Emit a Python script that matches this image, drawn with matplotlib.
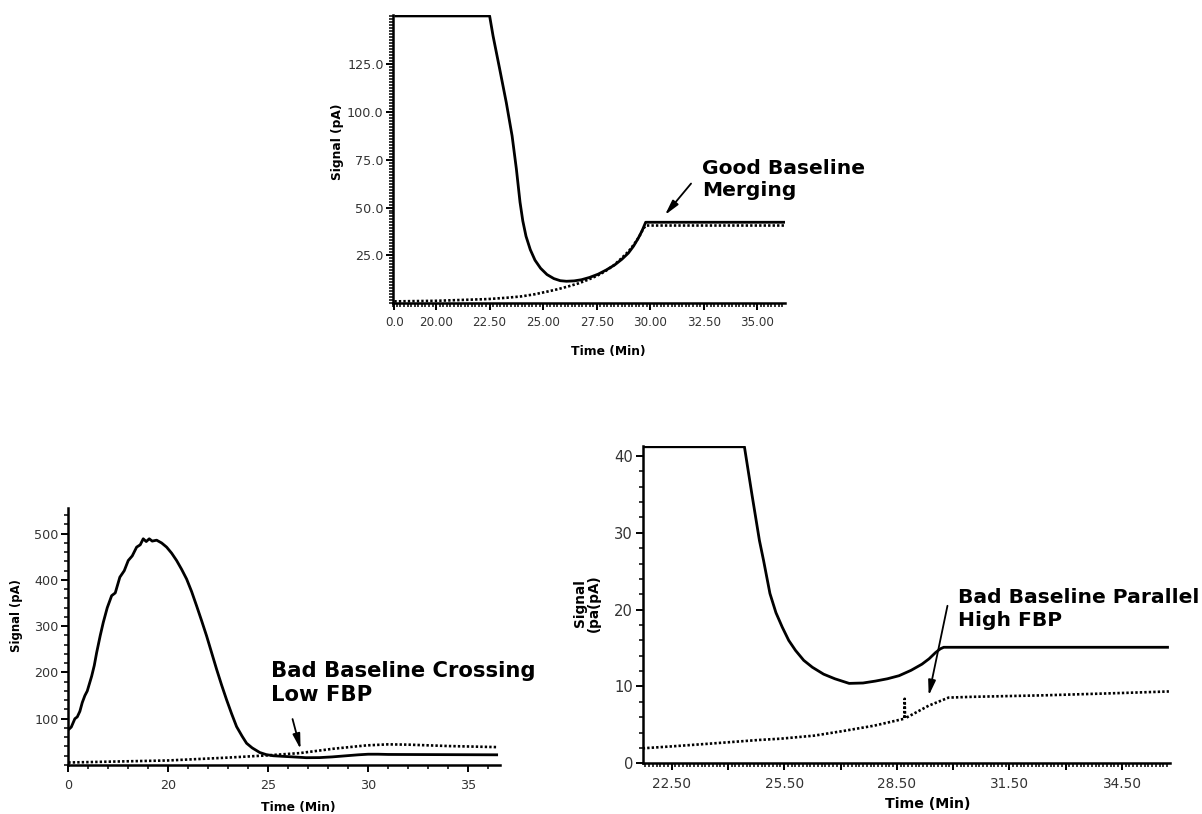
import matplotlib
matplotlib.use("Agg")
import matplotlib.pyplot as plt
from matplotlib.ticker import FixedLocator, MultipleLocator, NullFormatter

plt.rcParams['font.family'] = ['DejaVu Sans']

# ---- Panel 1: good baseline merging ----
top_time = [18.05, 22.50, 22.66, 22.97, 23.28, 23.55, 23.75, 23.92, 24.05, 24.20,
            24.40, 24.62, 24.88, 25.18, 25.50, 25.80, 26.09, 26.45, 26.79, 27.17,
            27.57, 27.95, 28.35, 28.68, 28.98, 29.22, 29.44, 29.62, 29.79, 36.30]
top_signal = [150.0, 150.0, 139.6, 122.3, 104.7, 87.4, 70.1, 52.8, 43.0, 35.0,
              28.0, 22.5, 18.3, 15.0, 12.9, 11.8, 11.5, 11.7, 12.3, 13.5,
              15.2, 17.4, 20.1, 23.0, 26.2, 29.8, 33.9, 37.8, 42.3, 42.3]
top_base_time = [18.05, 20.0, 22.42, 23.30, 23.98, 24.60, 25.23, 25.70, 26.17, 26.65,
                 27.10, 27.50, 27.88, 28.30, 28.66, 29.00, 29.28, 29.50, 29.68, 29.82, 36.30]
top_base = [1.0, 1.3, 2.2, 2.9, 3.6, 4.7, 6.2, 7.4, 8.8, 10.4,
            12.3, 14.3, 16.6, 19.8, 23.5, 27.2, 31.3, 35.0, 39.1, 40.6, 40.6]
top_xticks = [18.05, 20.0, 22.5, 25.0, 27.5, 30.0, 32.5, 35.0]
top_xlabels = ["0.0", "20.00", "22.50", "25.00", "27.50", "30.00", "32.50", "35.00"]
top_yticks = [25.0, 50.0, 75.0, 100.0, 125.0]
top_ylabels = ["25.0", "50.0", "75.0", "100.0", "125.0"]

# ---- Panel 2: bad baseline crossing (low FBP) ----
bl_time = [15.0, 15.15, 15.33, 15.45, 15.58, 15.70, 15.83, 15.95, 16.17, 16.30, 16.42,
           16.60, 16.75, 16.95, 17.17, 17.35, 17.58, 17.80, 18.0, 18.20, 18.42,
           18.60, 18.75, 18.9, 19.05, 19.2, 19.42, 19.67, 19.92, 20.17, 20.42,
           20.67, 20.92, 21.17, 21.42, 21.67, 21.92, 22.17, 22.42, 22.67, 22.92,
           23.17, 23.42, 23.70, 23.92, 24.20, 24.58, 24.90, 25.25, 25.70, 26.25,
           26.90, 27.58, 28.20, 28.92, 29.50, 30.0, 30.5, 31.0, 36.5]
bl_signal = [76, 82, 100, 104, 116, 135, 150, 160, 192, 215, 243,
             280, 308, 340, 366, 372, 406, 420, 442, 452, 471,
             476, 489, 483, 489, 484, 486, 480, 471, 458, 442,
             423, 402, 375, 344, 312, 279, 243, 207, 173, 141,
             111, 83, 62, 47, 37, 27, 22.5, 20, 18.8, 17.5,
             15.8, 16, 17.5, 20, 22, 23.3, 23.3, 22.8, 22.0]
bl_base_time = [15.0, 20.0, 23.0, 24.92, 26.58, 28.25, 29.92, 31.0, 32.0, 34.08, 36.42]
bl_base = [5.4, 9.8, 16.0, 20.7, 25.7, 35.1, 42.4, 44.6, 44.0, 40.9, 38.7]
bl_xticks = [15.0, 20.0, 25.0, 30.0, 35.0]
bl_xlabels = ["0", "20", "25", "30", "35"]
bl_yticks = [100, 200, 300, 400, 500]

# ---- Panel 3: bad baseline parallel (high FBP) ----
br_time = [21.73, 24.44, 24.64, 24.84, 24.95, 25.12, 25.28, 25.45, 25.62, 25.80,
           26.02, 26.25, 26.55, 26.85, 27.23, 27.60, 27.93, 28.25, 28.56, 28.88,
           29.17, 29.36, 29.53, 29.66, 29.75, 35.75]
br_signal = [41.2, 41.2, 35.0, 29.0, 26.4, 22.1, 19.6, 17.7, 16.0, 14.7,
             13.4, 12.5, 11.6, 11.0, 10.4, 10.45, 10.7, 11.0, 11.4, 12.1,
             12.9, 13.6, 14.4, 14.9, 15.1, 15.1]
br_base_time = [21.73, 22.5, 23.5, 24.84, 25.4, 26.3, 27.07, 27.9, 28.7, 28.71, 28.72,
                29.35, 29.88, 30.5, 32.45, 34.5, 35.75]
br_base = [1.95, 2.2, 2.55, 3.04, 3.2, 3.6, 4.2, 4.9, 5.8, 8.4, 5.85,
           7.5, 8.55, 8.65, 8.85, 9.15, 9.35]
br_xticks = [22.5, 25.5, 28.5, 31.5, 34.5]
br_xmid = [24.0, 27.0, 30.0, 33.0]
br_yticks = [0, 10, 20, 30, 40]

TICK_COLOR = "#333333"
SOLID = dict(color="black", lw=2.0, solid_joinstyle="round", solid_capstyle="butt")
DOTTED = dict(color="black", lw=1.9, linestyle=(0, (0.9, 0.8)), dash_capstyle="butt")
ARROW = dict(arrowstyle="-|>,head_length=0.9,head_width=0.22", color="black",
             lw=1.3, shrinkA=0, shrinkB=0)

fig = plt.figure(figsize=(12.02, 8.14), dpi=100)


def style_axes(ax, spine_w=1.8):
    for side in ("top", "right"):
        ax.spines[side].set_visible(False)
    for side in ("left", "bottom"):
        ax.spines[side].set_linewidth(spine_w)
    ax.tick_params(which="major", direction="out", length=5, width=1.4,
                   colors="black", labelcolor=TICK_COLOR)
    ax.tick_params(which="minor", direction="out", length=3, width=1.1, colors="black")


# Panel 1
ax1 = fig.add_axes([0.3272, 0.6274, 0.3259, 0.3542])
ax1.plot(top_base_time, top_base, **DOTTED)
ax1.plot(top_time, top_signal, **SOLID)
ax1.set_xlim(18.0, 36.3)
ax1.set_ylim(0, 150.5)
style_axes(ax1)
ax1.xaxis.set_major_locator(FixedLocator(top_xticks))
ax1.set_xticklabels(top_xlabels, fontsize=8.6)
ax1.xaxis.set_minor_locator(MultipleLocator(1 / 6))
ax1.yaxis.set_major_locator(FixedLocator(top_yticks))
ax1.set_yticklabels(top_ylabels, fontsize=9.2)
ax1.yaxis.set_minor_locator(MultipleLocator(25 / 16))
ax1.tick_params(axis="x", which="major", pad=4)
ax1.tick_params(axis="y", which="major", pad=2)
ax1.set_xlabel("Time (Min)", fontsize=8.9, fontweight="bold")
ax1.set_ylabel("Signal (pA)", fontsize=8.8, fontweight="bold")
ax1.xaxis.set_label_coords(0.549, -0.145)
ax1.yaxis.set_label_coords(-0.126, 0.56)
ax1.annotate("", xy=(30.69, 46.1), xytext=(31.91, 62.5), arrowprops=ARROW)
ax1.text(32.41, 75.5, "Good Baseline\nMerging", fontsize=14.6, fontweight="bold",
         ha="left", va="top", linespacing=1.25)

# Panel 2
ax2 = fig.add_axes([0.0568, 0.0602, 0.3592, 0.3154])
ax2.plot(bl_base_time, bl_base, **DOTTED)
ax2.plot(bl_time, bl_signal, **SOLID)
ax2.set_xlim(15.0, 36.6)
ax2.set_ylim(0, 555)
style_axes(ax2)
ax2.xaxis.set_major_locator(FixedLocator(bl_xticks))
ax2.set_xticklabels(bl_xlabels, fontsize=9.2)
ax2.xaxis.set_minor_locator(MultipleLocator(1))
ax2.yaxis.set_major_locator(FixedLocator(bl_yticks))
ax2.set_yticklabels([str(v) for v in bl_yticks], fontsize=9.2)
ax2.yaxis.set_minor_locator(MultipleLocator(20))
ax2.tick_params(axis="x", which="major", pad=5)
ax2.tick_params(axis="y", which="major", pad=2)
ax2.set_xlabel("Time (Min)", fontsize=8.9, fontweight="bold")
ax2.set_ylabel("Signal (pA)", fontsize=8.4, fontweight="bold")
ax2.xaxis.set_label_coords(0.532, -0.139)
ax2.yaxis.set_label_coords(-0.106, 0.582)
ax2.annotate("", xy=(26.62, 34.1), xytext=(26.22, 99.3), arrowprops=ARROW)
ax2.text(25.12, 224.6, "Bad Baseline Crossing\nLow FBP", fontsize=15.2,
         fontweight="bold", ha="left", va="top", linespacing=1.25)

# Panel 3
ax3 = fig.add_axes([0.5347, 0.0623, 0.4387, 0.3898])
ax3.plot(br_base_time, br_base, **DOTTED)
ax3.plot(br_time, br_signal, **SOLID)
ax3.set_xlim(21.73, 35.78)
ax3.set_ylim(0, 41.3)
style_axes(ax3)
ax3.xaxis.set_major_locator(FixedLocator(br_xticks))
ax3.set_xticklabels(["%.2f" % v for v in br_xticks], fontsize=9.8)
ax3.xaxis.set_minor_locator(MultipleLocator(0.1))
ax3.yaxis.set_major_locator(FixedLocator(br_yticks))
ax3.set_yticklabels([str(v) for v in br_yticks], fontsize=10.6)
ax3.yaxis.set_minor_locator(MultipleLocator(2))
ax3.tick_params(axis="x", which="major", pad=5)
ax3.tick_params(axis="y", which="major", pad=2)
# unlabeled intermediate ticks on the time axis
sec = ax3.secondary_xaxis("bottom")
sec.set_xticks(br_xmid)
sec.xaxis.set_major_formatter(NullFormatter())
sec.tick_params(length=5, width=1.4, direction="out")
sec.spines["bottom"].set_visible(False)
ax3.set_xlabel("Time (Min)", fontsize=10.2, fontweight="bold")
ax3.set_ylabel("Signal\n(pa(pA)", fontsize=9.8, fontweight="bold", linespacing=1.0)
ax3.xaxis.set_label_coords(0.541, -0.107)
ax3.yaxis.set_label_coords(-0.079, 0.505)
ax3.annotate("", xy=(29.35, 8.8), xytext=(29.85, 20.5), arrowprops=ARROW)
ax3.text(30.13, 22.8, "Bad Baseline Parallel\nHigh FBP", fontsize=14.6,
         fontweight="bold", ha="left", va="top", linespacing=1.25)

fig.savefig("out.png", dpi=100)
